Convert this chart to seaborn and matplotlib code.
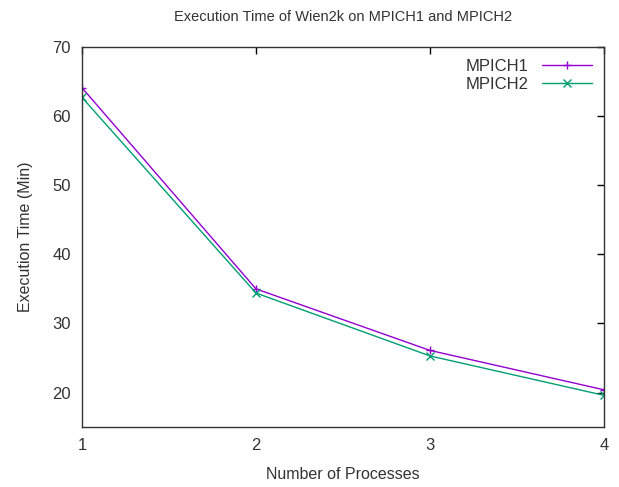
import matplotlib
matplotlib.use("Agg")
import matplotlib.pyplot as plt
import seaborn as sns
import pandas as pd

# data
processes = [1, 2, 3, 4]
mpich1 = [64.1, 35.0, 26.1, 20.4]
mpich2 = [62.7, 34.4, 25.3, 19.6]

df = pd.DataFrame({
    "processes": processes * 2,
    "time": mpich1 + mpich2,
    "series": ["MPICH1"] * 4 + ["MPICH2"] * 4,
})

sns.set_theme(style="white")
plt.rcParams["font.family"] = ["Liberation Sans", "DejaVu Sans"]

fig = plt.figure(figsize=(6.19, 4.87), dpi=100)
ax = fig.add_axes([0.1325, 0.123, 0.843, 0.7805])

sns.lineplot(data=df, x="processes", y="time", hue="series", style="series",
             palette={"MPICH1": "#9400D3", "MPICH2": "#009E73"},
             markers={"MPICH1": "+", "MPICH2": "x"}, dashes=False,
             linewidth=1, markersize=6, markeredgewidth=1, ax=ax)

# seaborn paints line-markers white, give them the line colour
for ln in ax.lines:
    ln.set_markeredgecolor(ln.get_color())

ax.set_xlim(1, 4)
ax.set_ylim(15, 70)
ax.set_xticks(processes)
ax.set_yticks([20, 30, 40, 50, 60, 70])
ax.tick_params(direction="in", length=5, width=1, top=True, right=True,
               labelsize=12, colors="black", labelcolor="#333333", pad=8)
for s in ax.spines.values():
    s.set_color("#333333")
    s.set_linewidth(1)

ax.set_xlabel("Number of Processes", fontsize=11.5, color="#333333", labelpad=10)
ax.set_ylabel("Execution Time (Min)", fontsize=11.5, color="#333333", labelpad=14)
ax.set_title("Execution Time of Wien2k on MPICH1 and MPICH2", fontsize=10.5,
             color="#333333", pad=19)

leg = ax.legend(loc="upper right", frameon=False, markerfirst=False,
                fontsize=12, handlelength=3, borderaxespad=0.3,
                labelspacing=0.2)
for h in leg.legend_handles:
    h.set_markeredgecolor(h.get_color())
for t in leg.get_texts():
    t.set_color("#333333")

fig.savefig("out.png", dpi=100)
